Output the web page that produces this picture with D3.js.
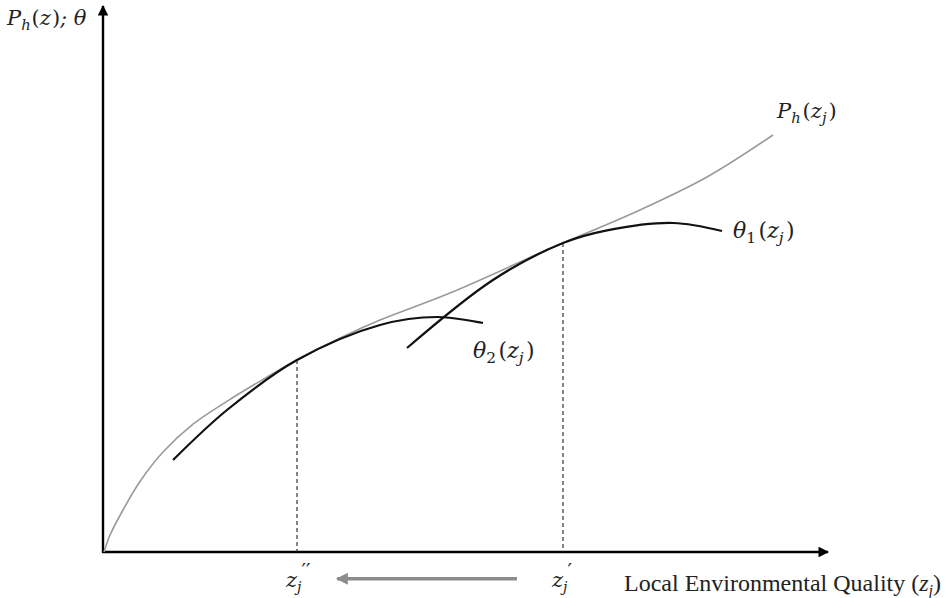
<!DOCTYPE html>
<html>
<head>
    <script src="https://d3js.org/d3.v7.min.js"></script>
    <style type="text/css">
        body { margin: 0; background: #fff; }
        .math { font-family: "DejaVu Serif", "Liberation Serif", serif; font-style: italic; fill: #222; }
        .plain { font-family: "Liberation Serif", serif; fill: #222; }
    </style>
</head>
<body>
<svg id="chart" width="948" height="598"></svg>
<script>
    // curves in chart units (x: 0..100 along the horizontal axis, y: 0..100 up the vertical axis)
    var priceX = [0.14, 0.97, 2.76, 5.10, 8.28, 12.41, 17.10, 21.66, 26.76, 32.69, 38.21, 47.86, 60.28, 63.45, 74.07, 83.31, 92.41];
    var priceY = [0, 3.11, 7.69, 12.9, 18.3, 23.4, 27.6, 31.3, 35.16, 39.19, 42.49, 47.44, 54.76, 56.59, 62.64, 68.68, 76.37];

    var theta2X = [9.66, 17.10, 26.76, 38.21, 46.07, 52.41];
    var theta2Y = [16.85, 26.01, 35.16, 41.58, 43.04, 41.94];

    var theta1X = [41.93, 53.79, 63.45, 69.52, 78.62, 85.38];
    var theta1Y = [37.36, 49.82, 56.59, 58.90, 60.26, 58.79];

    // tangency points z'' and z'
    var tangentX = [26.76, 63.45];
    var tangentY = [35.16, 56.59];
    var tangentLabels = ["′′", "′"];

    var svg = d3.select("#chart");

    var x = d3.scaleLinear().domain([0, 100]).range([103, 828]);
    var y = d3.scaleLinear().domain([0, 100]).range([552, 6]);

    var defs = svg.append("defs");
    defs.append("marker").attr("id", "headBlack")
        .attr("viewBox", "0 0 10 10").attr("refX", 9).attr("refY", 5)
        .attr("markerWidth", 5).attr("markerHeight", 4.4).attr("markerUnits", "strokeWidth")
        .attr("orient", "auto")
        .append("path").attr("d", "M0,0 L10,5 L0,10 z").attr("fill", "#000");
    defs.append("marker").attr("id", "headGray")
        .attr("viewBox", "0 0 10 10").attr("refX", 9).attr("refY", 5)
        .attr("markerWidth", 4).attr("markerHeight", 3.4).attr("markerUnits", "strokeWidth")
        .attr("orient", "auto")
        .append("path").attr("d", "M0,0 L10,5 L0,10 z").attr("fill", "#8c8c8c");

    // axes
    svg.append("line")
        .attr("x1", x(0) - 1).attr("y1", y(0)).attr("x2", x(100)).attr("y2", y(0))
        .attr("stroke", "#000").attr("stroke-width", 2.4).attr("marker-end", "url(#headBlack)");
    svg.append("line")
        .attr("x1", x(0)).attr("y1", y(0) + 1).attr("x2", x(0)).attr("y2", y(100))
        .attr("stroke", "#000").attr("stroke-width", 2.4).attr("marker-end", "url(#headBlack)");

    function pts(xs, ys) { return xs.map(function(d, i) { return [d, ys[i]]; }); }

    var line = d3.line()
        .x(function(d) { return x(d[0]); })
        .y(function(d) { return y(d[1]); })
        .curve(d3.curveCatmullRom.alpha(0.5));

    // dashed drop lines
    svg.selectAll("line.drop")
        .data(tangentX)
        .enter().append("line")
        .attr("class", "drop")
        .attr("x1", function(d) { return x(d); })
        .attr("x2", function(d) { return x(d); })
        .attr("y1", function(d, i) { return y(tangentY[i]); })
        .attr("y2", y(0))
        .attr("stroke", "#222").attr("stroke-width", 1.1).attr("stroke-dasharray", "4,3");

    svg.append("path").datum(pts(priceX, priceY))
        .attr("d", line).attr("fill", "none")
        .attr("stroke", "#9a9a9a").attr("stroke-width", 1.6);

    svg.append("path").datum(pts(theta2X, theta2Y))
        .attr("d", line).attr("fill", "none")
        .attr("stroke", "#111").attr("stroke-width", 2.2);

    svg.append("path").datum(pts(theta1X, theta1Y))
        .attr("d", line).attr("fill", "none")
        .attr("stroke", "#111").attr("stroke-width", 2.2);

    // gray arrow from z' toward z''
    svg.append("line")
        .attr("x1", x(57.1)).attr("y1", y(-4.9)).attr("x2", x(32.3)).attr("y2", y(-4.9))
        .attr("stroke", "#8c8c8c").attr("stroke-width", 3.5).attr("marker-end", "url(#headGray)");

    // labels: parts are {t, sub (lowered), up (upright), dx}
    function mathLabel(px, py, parts, size) {
        var t = svg.append("text").attr("class", "math")
            .attr("x", px).attr("y", py).style("font-size", size + "px");
        var shifted = 0;
        parts.forEach(function(p) {
            var s = t.append("tspan").text(p.t);
            var want = p.sub ? 5 : 0;
            if (want !== shifted) { s.attr("dy", want - shifted); shifted = want; }
            if (p.sub) s.style("font-size", (size * 0.7) + "px");
            if (p.up) s.style("font-style", "normal");
            if (p.dx) s.attr("dx", p.dx);
        });
        return t;
    }

    mathLabel(7, 25, [{t: "P"}, {t: "h", sub: 1}, {t: "(", up: 1, dx: 1}, {t: "z"}, {t: ")", up: 1, dx: 1}, {t: "; θ"}], 21);
    mathLabel(777, 118, [{t: "P"}, {t: "h", sub: 1}, {t: "(", up: 1, dx: 2}, {t: "z"}, {t: "j", sub: 1}, {t: ")", up: 1, dx: 2}], 21);
    mathLabel(733, 238, [{t: "θ"}, {t: "1", sub: 1, up: 1}, {t: "(", up: 1, dx: 2.5}, {t: "z"}, {t: "j", sub: 1}, {t: ")", up: 1, dx: 2.5}], 22);
    mathLabel(473, 358, [{t: "θ"}, {t: "2", sub: 1, up: 1}, {t: "(", up: 1, dx: 2.5}, {t: "z"}, {t: "j", sub: 1}, {t: ")", up: 1, dx: 2.5}], 22);

    tangentX.forEach(function(d, i) {
        var t = svg.append("text").attr("class", "math")
            .attr("x", x(d) - 11).attr("y", 587).style("font-size", "21px");
        t.append("tspan").text("z");
        t.append("tspan").text("j").attr("dy", 5).style("font-size", "14px");
        t.append("tspan").text(tangentLabels[i]).attr("dy", -14).style("font-size", "20px").style("font-style", "normal");
    });

    var q = svg.append("text").attr("class", "plain")
        .attr("x", 624).attr("y", 591).style("font-size", "24px");
    q.append("tspan").text("Local Environmental Quality (");
    q.append("tspan").text("z").style("font-style", "italic");
    q.append("tspan").text("j").style("font-style", "italic").attr("dy", 5).style("font-size", "16px");
    q.append("tspan").text(")").attr("dy", -5);
</script>
</body>
</html>
